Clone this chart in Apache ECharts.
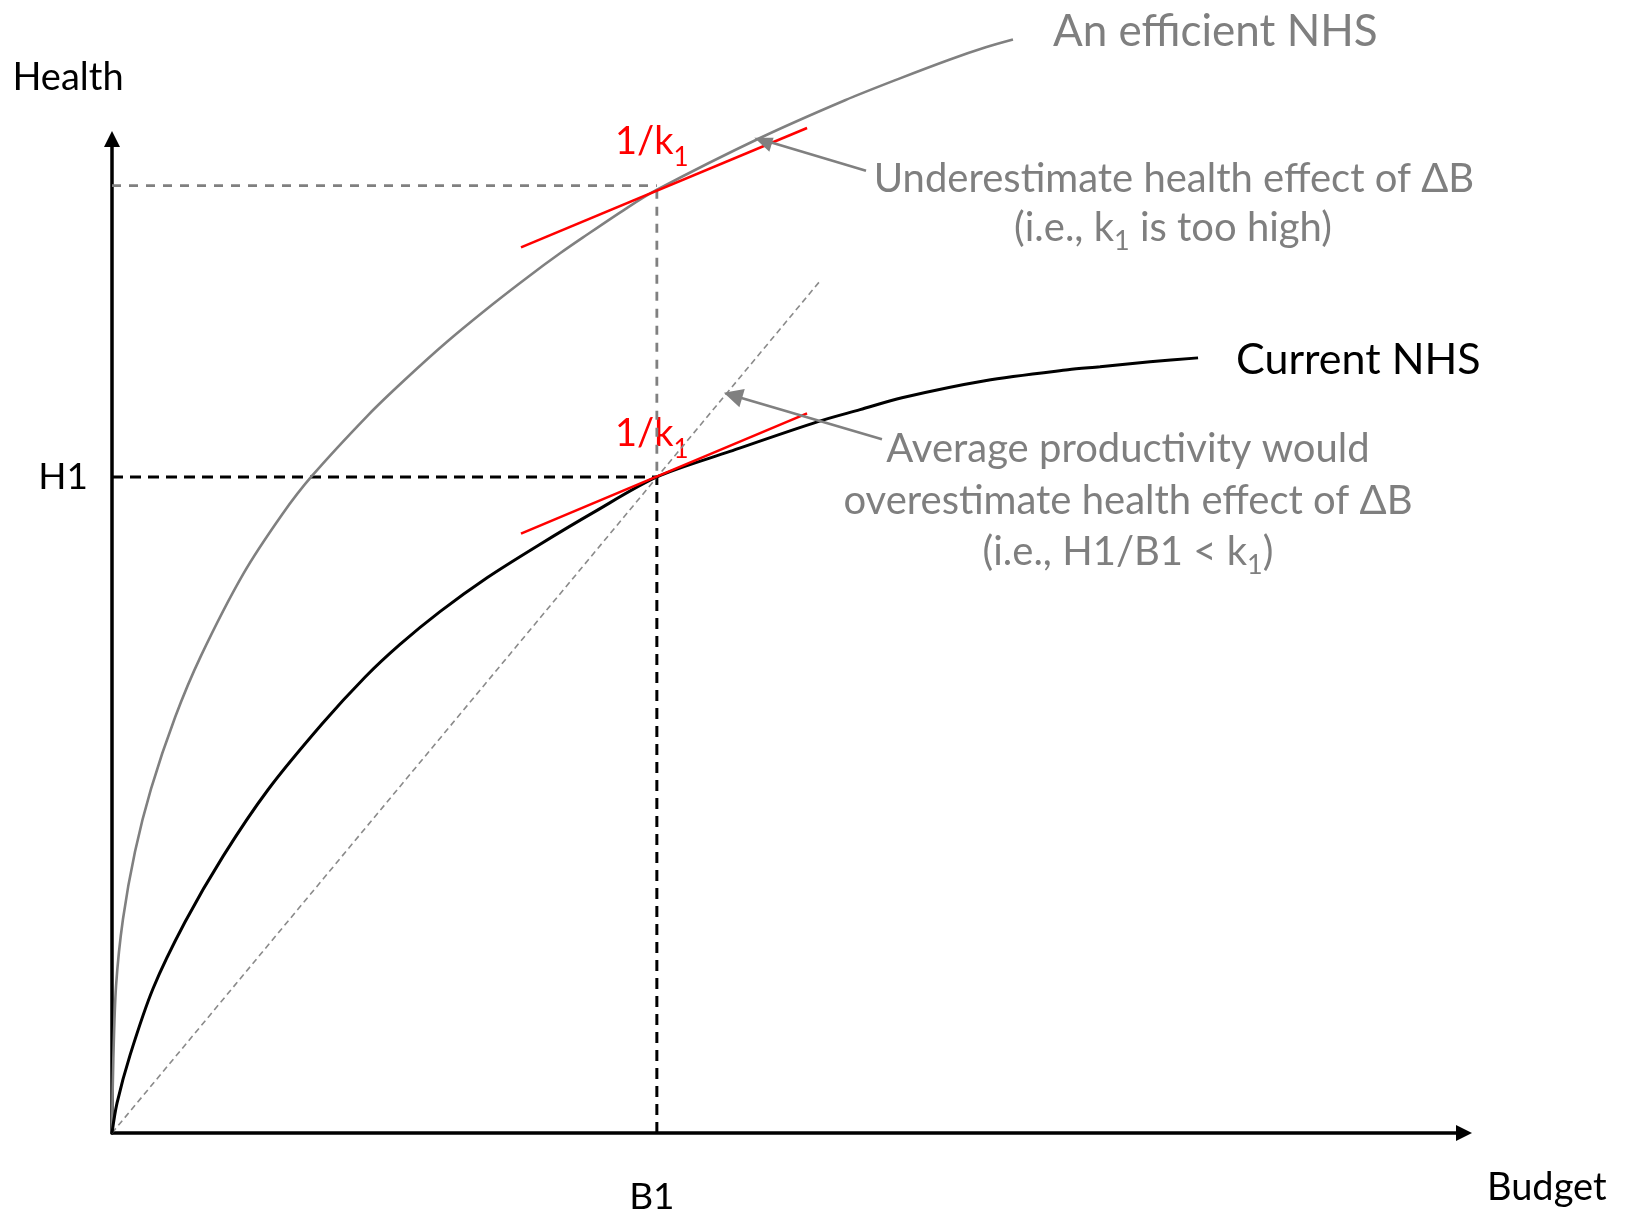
<!DOCTYPE html>
<html>
<head>
<meta charset="utf-8">
<script src="https://cdn.jsdelivr.net/npm/echarts@6/dist/echarts.min.js"></script>
<style>html,body{margin:0;padding:0;background:#fff;}#main{width:1629px;height:1216px;}</style>
</head>
<body>
<div id="main"></div>
<script>
// ---- values (axis units: budget 0-100, health 0-100) ----
const B1 = 40.3;          // budget level B1
const H1 = 66.0;          // health at B1 on the current NHS curve
const H_EFF_LINE = 95.3;  // dashed reference line for the efficient NHS
const H_EFF_B1 = 94.9;    // efficient NHS curve at B1

const efficientBudget = [0, 0.1, 0.3, 0.81, 1.70, 2.88, 4.66, 6.58, 9.69, 12.57, 14.79, 18.93, 21.60, 24.78, 28.18, 30.84, 33.14, 34.84, 38.02, 40.31, 47.93, 54.22, 58.28, 61.98, 64.57, 66.64];
const efficientHealth = [0, 7.5, 14.8, 21.5, 28.3, 34.6, 41.8, 48.0, 56.2, 62.2, 66.1, 72.2, 75.7, 79.6, 83.4, 86.2, 88.5, 90.1, 93.0, 94.9, 100.1, 103.9, 106.1, 108.0, 109.2, 110.0];

const currentBudget = [0, 0.37, 1.33, 3.03, 5.40, 8.21, 11.54, 15.53, 18.71, 21.30, 24.26, 27.74, 31.58, 35.65, 40.31, 45.71, 52.22, 55.33, 58.43, 64.57, 70.71, 73.08, 76.78, 80.33];
const currentHealth = [0, 3.0, 7.81, 14.51, 21.22, 27.83, 34.53, 41.14, 45.85, 49.15, 52.45, 55.86, 59.16, 62.46, 66.0, 68.57, 71.57, 72.77, 73.97, 75.68, 76.78, 77.08, 77.58, 77.98];

const tangentUpper = [[30.25, 89.1], [51.41, 101.1]];
const tangentLower = [[30.25, 60.3], [51.41, 72.4]];
const averageLine = [[0, 0], [52.3, 85.6]];
const arrowUpper = [[55.77, 96.8], [48.15, 99.9]];
const arrowLower = [[56.95, 69.8], [45.93, 74.2]];

const seriesNames = ['An efficient NHS', 'Current NHS'];
const axisNames = ['Budget', 'Health'];
const tickNames = ['B1', 'H1'];
const noteUpper = ['Underestimate health effect of \u0394B', '(i.e., k', '1', ' is too high)'];
const noteLower = ['Average productivity would', 'overestimate health effect of \u0394B', '(i.e., H1/B1 < k', '1', ')'];
const slopeLabel = ['1/k', '1'];

// ---- chart ----
const FONT = 'Lato';
const GRAY = '#7f7f7f';
const zip = (xs, ys) => xs.map((x, i) => [x, ys[i]]);

const chart = echarts.init(document.getElementById('main'));

function seg(name, data, color, width, type, z) {
  return {
    name: name, type: 'line', data: data, symbol: 'none', silent: true,
    clip: false, z: z || 2,
    lineStyle: { color: color, width: width, type: type || 'solid' }
  };
}

function richText(main, sub, tail, size, subSize, subPad, color) {
  return {
    text: '{m|' + main + '}{s|' + sub + '}' + (tail ? '{m|' + tail + '}' : ''),
    fill: color,
    rich: {
      m: { fontSize: size, fontFamily: FONT, fill: color },
      s: { fontSize: subSize, fontFamily: FONT, fill: color, lineHeight: subSize, padding: [subPad, 0, 0, 0] }
    }
  };
}

const option = {
  animation: false,
  backgroundColor: '#ffffff',
  grid: { left: 112, right: 165, top: 139, bottom: 78, containLabel: false },
  xAxis: {
    type: 'value', min: 0, max: 100, interval: B1,
    name: axisNames[0], nameLocation: 'end', nameGap: 23,
    nameTextStyle: { fontSize: 38, fontFamily: FONT, color: '#000', verticalAlign: 'top', lineHeight: 38, padding: [36, 0, 0, 0] },
    axisLine: { show: true, symbol: ['none', 'triangle'], symbolSize: [16, 16], lineStyle: { color: '#000', width: 3.5 } },
    axisTick: { show: false },
    splitLine: { show: false },
    axisLabel: {
      show: true, margin: 46, fontSize: 37, fontFamily: FONT, color: '#000', padding: [0, 10, 0, 0],
      formatter: v => (Math.abs(v - B1) < 1e-6 ? tickNames[0] : '')
    }
  },
  yAxis: {
    type: 'value', min: 0, max: 100, interval: H1,
    name: axisNames[1], nameLocation: 'end', nameGap: 42,
    nameTextStyle: { fontSize: 38, fontFamily: FONT, color: '#000', padding: [0, 88, 0, 0] },
    axisLine: { show: true, symbol: ['none', 'triangle'], symbolSize: [16, 16], lineStyle: { color: '#000', width: 3.5 } },
    axisTick: { show: false },
    splitLine: { show: false },
    axisLabel: {
      show: true, margin: 24, fontSize: 37, fontFamily: FONT, color: '#000', padding: [0, 0, 14, 0],
      formatter: v => (Math.abs(v - H1) < 1e-6 ? tickNames[1] : '')
    }
  },
  series: [
    seg('H1 line', [[0, H1], [B1, H1]], '#000', 3, [11, 7]),
    seg('B1 line', [[B1, 0], [B1, H1]], '#000', 3, [11, 7]),
    seg('efficient level', [[0, H_EFF_LINE], [B1, H_EFF_LINE]], '#808080', 2.8, [9, 8]),
    seg('efficient B1', [[B1, H_EFF_B1], [B1, H1]], '#808080', 2.8, [9, 8]),
    seg('average productivity', averageLine, '#8a8a8a', 1.6, [6, 4]),
    Object.assign(seg(seriesNames[0], zip(efficientBudget, efficientHealth), '#808080', 2.6, 'solid', 3), {
      smooth: 0.3,
      endLabel: { show: true, formatter: seriesNames[0], distance: 40, offset: [0, -8], color: GRAY, fontSize: 44, fontFamily: FONT }
    }),
    Object.assign(seg(seriesNames[1], zip(currentBudget, currentHealth), '#000', 3, 'solid', 3), {
      smooth: 0.3,
      endLabel: { show: true, formatter: seriesNames[1], distance: 38, offset: [0, 2], color: '#000', fontSize: 43, fontFamily: FONT }
    }),
    seg('tangent efficient', tangentUpper, '#ff0000', 2.6, 'solid', 4),
    seg('tangent current', tangentLower, '#ff0000', 2.6, 'solid', 4),
    {
      type: 'lines', coordinateSystem: 'cartesian2d', silent: true, z: 5,
      symbol: ['none', 'triangle'], symbolSize: 19,
      lineStyle: { color: '#808080', width: 2.6, opacity: 1 },
      data: [{ coords: arrowUpper }, { coords: arrowLower }]
    }
  ],
  graphic: [
    { type: 'text', x: 1174, y: 179, silent: true, style: { text: noteUpper[0], fill: GRAY, fontSize: 40, fontFamily: FONT, align: 'center', verticalAlign: 'middle' } },
    { type: 'text', x: 1173, y: 228, silent: true, style: Object.assign(richText(noteUpper[1], noteUpper[2], noteUpper[3], 40, 27, 27, GRAY), { align: 'center', verticalAlign: 'middle' }) },
    { type: 'text', x: 1128, y: 449, silent: true, style: { text: noteLower[0], fill: GRAY, fontSize: 40, fontFamily: FONT, align: 'center', verticalAlign: 'middle' } },
    { type: 'text', x: 1128, y: 501, silent: true, style: { text: noteLower[1], fill: GRAY, fontSize: 40, fontFamily: FONT, align: 'center', verticalAlign: 'middle' } },
    { type: 'text', x: 1128, y: 552, silent: true, style: Object.assign(richText(noteLower[2], noteLower[3], noteLower[4], 40, 27, 27, GRAY), { align: 'center', verticalAlign: 'middle' }) },
    { type: 'text', x: 615, y: 142, silent: true, style: Object.assign(richText(slopeLabel[0], slopeLabel[1], '', 38, 26, 32, '#ff0000'), { align: 'left', verticalAlign: 'middle' }) },
    { type: 'text', x: 615, y: 434, silent: true, style: Object.assign(richText(slopeLabel[0], slopeLabel[1], '', 38, 26, 32, '#ff0000'), { align: 'left', verticalAlign: 'middle' }) }
  ]
};

chart.setOption(option);
</script>
</body>
</html>
